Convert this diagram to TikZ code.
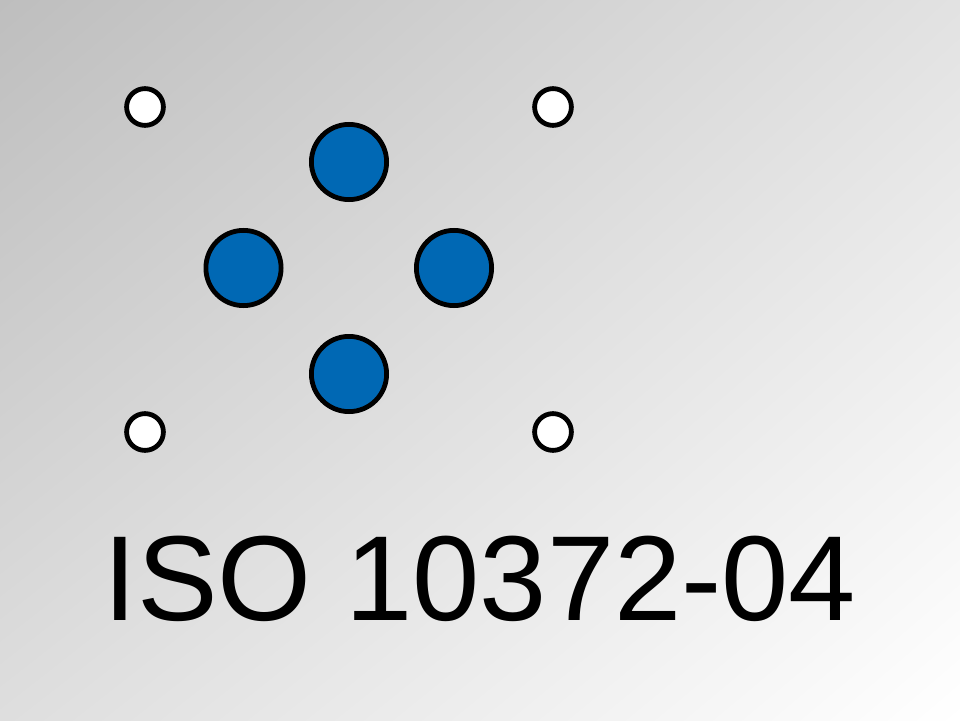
\documentclass[tikz,border=0pt]{standalone}
\usepackage{fontspec}
\setmainfont{Liberation Sans}
\usetikzlibrary{positioning,calc}
\usetikzlibrary{shadings}

\definecolor{bgtl}{RGB}{190,190,190}
\definecolor{bgtr}{RGB}{226,226,226}
\definecolor{bgbl}{RGB}{222,222,222}
\definecolor{bgbr}{RGB}{255,255,255}
\definecolor{pinblue}{RGB}{0,104,180}

\tikzset{
  hole/.style={draw, circle, line width=0.12cm, fill=white, inner sep=0pt, minimum size=0.92cm},
  pin/.style={draw, circle, line width=0.12cm, fill=pinblue, inner sep=0pt, minimum size=1.88cm}
}

\begin{document}
\begin{tikzpicture}
  \shade[upper left=bgtl, upper right=bgtr, lower left=bgbl, lower right=bgbr] (0, 0) rectangle (24, 18);
  \useasboundingbox (0, 0) rectangle (24, 18);

  \node[hole] at (3.625, 15.325)  (h_1) {};
  \node[hole] at (13.825, 15.325) (h_2) {};
  \node[hole] at (3.625, 7.2)     (h_3) {};
  \node[hole] at (13.825, 7.2)    (h_4) {};

  \node[pin] at (8.725, 13.95)  (p_1) {};
  \node[pin] at (6.0875, 11.3)  (p_2) {};
  \node[pin] at (11.35, 11.3)   (p_3) {};
  \node[pin] at (8.725, 8.65)   (p_4) {};

  \node[anchor=base, inner sep=0pt, font=\fontsize{86}{90}\selectfont] at (12, 2.5) (title) {ISO 10372-04};

\end{tikzpicture}
\end{document}
